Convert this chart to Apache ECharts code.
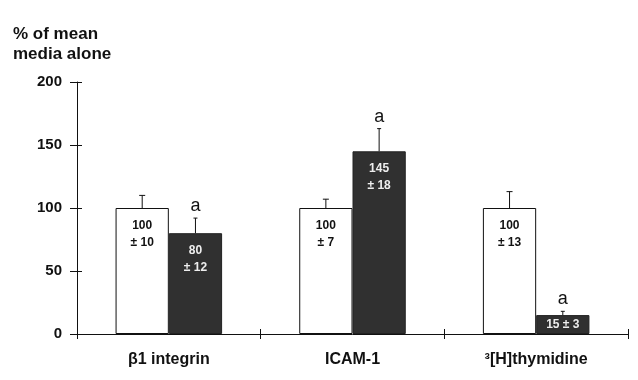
<!DOCTYPE html>
<html>
<head>
<meta charset="utf-8">
<script src="https://cdn.jsdelivr.net/npm/echarts@6/dist/echarts.min.js"></script>
<style>html,body{margin:0;padding:0;background:#fff}#c{width:638px;height:380px}</style>
</head>
<body>
<div id="c"></div>
<script>
const categories = ['\u03B21 integrin', 'ICAM-1', '\u00B3[H]thymidine'];
const mediaValues = [100, 100, 100];
const mediaErrors = [10, 7, 13];
const treatedValues = [80, 145, 15];
const treatedErrors = [12, 18, 3];
const treatedMarks = ['a', 'a', 'a'];
const yTicks = [0, 50, 100, 150, 200];

const FONT = '"Liberation Sans", Arial, Helvetica, sans-serif';
const GAP = '42%';
const GRID = {left: 77, right: 10, top: 82, bottom: 46};
const W = 638, H = 380;
const gridW = W - GRID.left - GRID.right;
const gridH = H - GRID.top - GRID.bottom;

const chart = echarts.init(document.getElementById('c'), null, {renderer: 'canvas'});

function barLabel(v, e, inline) {
  return inline ? (v + ' \u00B1 ' + e) : (v + '\n\u00B1 ' + e);
}

const mediaData = mediaValues.map((v, i) => ({
  value: v,
  label: {formatter: barLabel(v, mediaErrors[i], false)}
}));
const treatedData = treatedValues.map((v, i) => {
  const small = v < 30;
  return {
    value: v,
    label: small
      ? {formatter: barLabel(v, treatedErrors[i], true), position: 'inside'}
      : {formatter: barLabel(v, treatedErrors[i], false), position: 'insideTop', distance: 9}
  };
});

const errData = [];
categories.forEach((c, i) => {
  errData.push([i, mediaValues[i], mediaErrors[i], 0, '']);
  errData.push([i, treatedValues[i], treatedErrors[i], 1, treatedMarks[i]]);
});

const tickStyle = {color: '#111', width: 1, opacity: 1};

const option = {
  animation: false,
  backgroundColor: '#fff',
  title: {
    text: '% of mean\nmedia alone',
    left: 13, top: 24, padding: 0,
    textStyle: {fontFamily: FONT, fontSize: 17, fontWeight: 'bold', color: '#111', lineHeight: 20}
  },
  grid: Object.assign({containLabel: false}, GRID),
  xAxis: [
    {
      type: 'category', data: categories, position: 'bottom', boundaryGap: true,
      axisLine: {onZero: false, lineStyle: {color: '#111', width: 1}},
      axisTick: {show: true, length: 5, lineStyle: tickStyle},
      axisLabel: {fontFamily: FONT, fontSize: 16, fontWeight: 'bold', color: '#111', margin: 18}
    },
    {
      type: 'category', data: categories, position: 'top', offset: -gridH, boundaryGap: true,
      axisLine: {show: true, onZero: false, lineStyle: {color: 'rgba(0,0,0,0)', width: 1}},
      axisTick: {show: true, length: 5, lineStyle: tickStyle},
      axisLabel: {show: false}
    }
  ],
  yAxis: [
    {
      type: 'value', min: 0, max: 200, interval: 50, position: 'left',
      axisLine: {show: true, onZero: false, lineStyle: {color: '#111', width: 1}},
      axisTick: {show: true, length: 7, lineStyle: tickStyle},
      splitLine: {show: false},
      axisLabel: {fontFamily: FONT, fontSize: 15, fontWeight: 'bold', color: '#111', margin: 15,
        formatter: v => yTicks.includes(v) ? String(v) : ''}
    },
    {
      type: 'value', min: 0, max: 200, interval: 50, position: 'right', offset: -gridW,
      axisLine: {show: true, onZero: false, lineStyle: {color: 'rgba(0,0,0,0)', width: 1}},
      axisTick: {show: true, length: 5, lineStyle: tickStyle},
      splitLine: {show: false},
      axisLabel: {show: false}
    }
  ],
  series: [
    {
      type: 'bar', name: 'media alone', data: mediaData, barGap: '0%', barCategoryGap: GAP,
      itemStyle: {color: '#fff', borderColor: '#111', borderWidth: 1},
      label: {show: true, position: 'insideTop', distance: 9, fontFamily: FONT, fontSize: 12,
        fontWeight: 'bold', color: '#111', lineHeight: 17},
      z: 2
    },
    {
      type: 'bar', name: 'treated', data: treatedData, barGap: '0%', barCategoryGap: GAP,
      itemStyle: {color: '#303030', borderColor: '#222', borderWidth: 1},
      label: {show: true, fontFamily: FONT, fontSize: 12, fontWeight: 'bold', color: '#eee', lineHeight: 17},
      z: 2
    },
    {
      type: 'custom', data: errData, z: 5,
      encode: {x: 0, y: 1},
      renderItem: function (params, api) {
        const cat = api.value(0), val = api.value(1), err = api.value(2), side = api.value(3);
        const mark = errData[params.dataIndex][4];
        const catW = api.size([1, 0])[0];
        const barW = catW * (1 - 0.42) / 2;
        const base = api.coord([cat, val]);
        const top = api.coord([cat, val + err]);
        const x = base[0] + (side ? barW / 2 : -barW / 2);
        const cap = side ? 2 : 3;
        const children = [
          {type: 'line', shape: {x1: x, y1: base[1], x2: x, y2: top[1]}, style: {stroke: '#111', lineWidth: 1}},
          {type: 'line', shape: {x1: x - cap, y1: top[1], x2: x + cap, y2: top[1]}, style: {stroke: '#111', lineWidth: 1}}
        ];
        if (mark) {
          children.push({type: 'text', x: x, y: top[1] - 3,
            style: {text: mark, fontFamily: FONT, fontSize: 18, fill: '#111', align: 'center', verticalAlign: 'bottom'}});
        }
        return {type: 'group', children: children};
      }
    },
    {
      type: 'line', xAxisIndex: 1, yAxisIndex: 1, data: [], silent: true, showSymbol: false
    }
  ]
};
chart.setOption(option);
</script>
</body>
</html>
